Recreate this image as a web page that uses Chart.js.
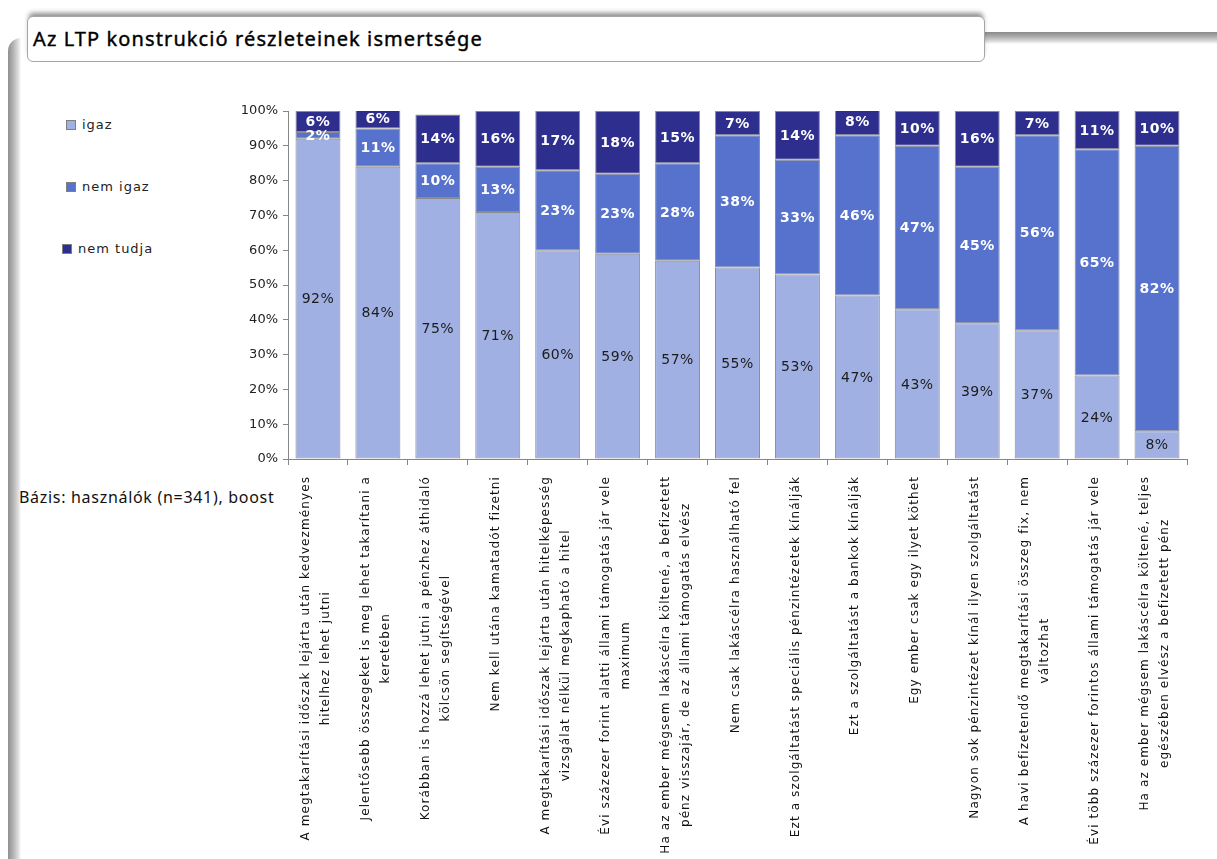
<!DOCTYPE html>
<html>
<head>
	<meta charset="utf-8" />
	<title>Az LTP konstrukció részleteinek ismertsége</title>
	<script src="https://cdn.jsdelivr.net/npm/chart.js@4/dist/chart.umd.min.js"></script>
	<style>
		body {
			margin: 0;
			background: #fff;
			width: 1217px;
			height: 859px;
			overflow: hidden;
			position: relative;
			font-family: "DejaVu Sans", sans-serif;
		}

		/* frame pieces */
		#sidebar {
			position: absolute;
			left: 8px;
			top: 38px;
			width: 13px;
			height: 830px;
			border-top-left-radius: 14px;
			background: linear-gradient(to right, #8f8f8f, #b8b8b8 45%, #e6e6e6 85%, #fff);
		}

		#rule {
			position: absolute;
			left: 980px;
			top: 32px;
			width: 237px;
			height: 12px;
			background: linear-gradient(to bottom, #8a8a8a, #a9a9a9 35%, #d8d8d8 75%, #fff);
		}

		#titlebox {
			position: absolute;
			left: 27px;
			top: 16px;
			width: 956px;
			height: 44px;
			background: #fff;
			border: 1px solid #a6a6a6;
			border-radius: 6px;
			box-shadow: 0 -5px 5px -2px rgba(0, 0, 0, 0.45);
		}

		#titlebox span {
			position: absolute;
			left: 5px;
			top: 8px;
			font-family: "Noto Sans", sans-serif;
			font-size: 20px;
			letter-spacing: 1.1px;
			color: #000;
			-webkit-text-stroke: 0.4px #000;
		}

		.item {
			position: absolute;
			font-size: 13px;
			letter-spacing: 1px;
			color: #222;
			white-space: nowrap;
			line-height: 14px;
		}

		.item i {
			display: inline-block;
			width: 8px;
			height: 8px;
			border: 1px solid #7f7f7f;
			margin-right: 6px;
			vertical-align: -1px;
		}

		#note {
			position: absolute;
			left: 19px;
			top: 486px;
			font-family: "Noto Sans", sans-serif;
			font-size: 16px;
			letter-spacing: 0.7px;
			color: #111;
		}

		canvas {
			position: absolute;
			left: 0;
			top: 0;
		}
	</style>
</head>

<body>
	<div id="sidebar"></div>
	<div id="rule"></div>
	<div id="titlebox"><span>Az LTP konstrukció részleteinek ismertsége</span></div>

	<div id="legend">
		<div class="item" style="left:66px; top:118px"><i style="background:#a0b0e2"></i>igaz</div>
		<div class="item" style="left:66px; top:180px"><i style="background:#5672cc"></i>nem igaz</div>
		<div class="item" style="left:62px; top:242px"><i style="background:#2e2e8e"></i>nem tudja</div>
	</div>

	<div id="note">Bázis: használók (n=341), boost</div>

	<canvas id="chart" width="1217" height="859"></canvas>

	<script type="text/javascript">
		// statements (each one is a list of label lines)
		var categories = [
			["A megtakarítási időszak lejárta után kedvezményes", "hitelhez lehet jutni"],
			["Jelentősebb összegeket is meg lehet takarítani a", "keretében"],
			["Korábban is hozzá lehet jutni a pénzhez áthidaló", "kölcsön segítségével"],
			["Nem kell utána kamatadót fizetni"],
			["A megtakarítási időszak lejárta után hitelképesség", "vizsgálat nélkül megkapható a hitel"],
			["Évi százezer forint alatti állami támogatás jár vele", "maximum"],
			["Ha az ember mégsem lakáscélra költené, a befizetett", "pénz visszajár, de az állami támogatás elvész"],
			["Nem csak lakáscélra használható fel"],
			["Ezt a szolgáltatást speciális pénzintézetek kínálják"],
			["Ezt a szolgáltatást a bankok kínálják"],
			["Egy ember csak egy ilyet köthet"],
			["Nagyon sok pénzintézet kínál ilyen szolgáltatást"],
			["A havi befizetendő megtakarítási összeg fix, nem", "változhat"],
			["Évi több százezer forintos állami támogatás jár vele"],
			["Ha az ember mégsem lakáscélra költené, teljes", "egészében elvész a befizetett pénz"]
		]

		var igaz = [92, 84, 75, 71, 60, 59, 57, 55, 53, 47, 43, 39, 37, 24, 8]
		var nemIgaz = [2, 11, 10, 13, 23, 23, 28, 38, 33, 46, 47, 45, 56, 65, 82]
		var nemTudja = [6, 6, 14, 16, 17, 18, 15, 7, 14, 8, 10, 16, 7, 11, 10]

		var seriesNames = ["igaz", "nem igaz", "nem tudja"]
		var yTicks = [0, 10, 20, 30, 40, 50, 60, 70, 80, 90, 100]

		var colors = ["#a0b0e2", "#5672cc", "#2e2e8e"]
		var labelColors = ["#1c1c1c", "#ffffff", "#ffffff"]
		var axisColor = "#868686"

		// percent labels in the middle of every segment
		var segmentLabels = {
			id: "segmentLabels",
			afterDatasetsDraw: function (chart) {
				var ctx = chart.ctx
				ctx.save()
				ctx.textAlign = "center"
				ctx.textBaseline = "middle"
				ctx.letterSpacing = "0.5px"
				chart.data.datasets.forEach(function (ds, i) {
					var meta = chart.getDatasetMeta(i)
					ctx.font = (i == 0 ? "" : "bold ") + "14px 'DejaVu Sans'"
					ctx.fillStyle = labelColors[i]
					meta.data.forEach(function (bar, j) {
						var y = (bar.y + bar.base) / 2
						ctx.fillText(ds.data[j] + "%", bar.x, y + 1)
					})
				})
				ctx.restore()
			}
		}

		// rotated category labels, lines centred on the longest one
		var categoryLabels = {
			id: "categoryLabels",
			afterDraw: function (chart) {
				var ctx = chart.ctx
				var xScale = chart.scales.x
				var top = chart.chartArea.bottom + 17
				var lh = 20
				ctx.save()
				ctx.font = "12px 'DejaVu Sans'"
				ctx.letterSpacing = "1.1px"
				ctx.fillStyle = "#111"
				ctx.textAlign = "center"
				ctx.textBaseline = "middle"
				categories.forEach(function (lines, i) {
					var x = xScale.getPixelForValue(i) - 2
					var maxW = Math.max.apply(null, lines.map(function (l) { return ctx.measureText(l).width }))
					ctx.save()
					ctx.translate(x, top)
					ctx.rotate(-Math.PI / 2)
					lines.forEach(function (l, k) {
						ctx.fillText(l, -maxW / 2, (k - (lines.length - 1) / 2) * lh)
					})
					ctx.restore()
				})
				ctx.restore()
			}
		}

		var datasets = [igaz, nemIgaz, nemTudja].map(function (values, i) {
			return {
				label: seriesNames[i],
				data: values,
				backgroundColor: colors[i],
				borderColor: "#8c8c8c",
				borderWidth: 1,
				borderSkipped: false,
				barPercentage: 0.75,
				categoryPercentage: 1
			}
		})

		var ctx = document.getElementById("chart").getContext("2d")
		var chart = new Chart(ctx, {
			type: "bar",
			data: {
				labels: categories,
				datasets: datasets
			},
			options: {
				responsive: false,
				animation: false,
				devicePixelRatio: 1,
				layout: {
					padding: { left: 0, top: 111, right: 30, bottom: 0 }
				},
				plugins: {
					legend: { display: false },
					tooltip: { enabled: false }
				},
				scales: {
					x: {
						stacked: true,
						offset: true,
						grid: {
							display: true,
							offset: true,
							drawOnChartArea: false,
							tickLength: 6,
							color: axisColor
						},
						border: { color: axisColor },
						ticks: { display: false },
						afterFit: function (s) { s.height = 859 - 459 }
					},
					y: {
						stacked: true,
						min: 0,
						max: 100,
						afterBuildTicks: function (s) {
							s.ticks = yTicks.map(function (v) { return { value: v } })
						},
						ticks: {
							callback: function (v) { return v + "%" },
							font: { family: "DejaVu Sans", size: 13 },
							color: "#222",
							padding: 5
						},
						grid: {
							display: true,
							drawOnChartArea: false,
							tickLength: 5,
							color: axisColor
						},
						border: { color: axisColor },
						afterFit: function (s) { s.width = 288 }
					}
				}
			},
			plugins: [segmentLabels, categoryLabels]
		})
	</script>
</body>

</html>
